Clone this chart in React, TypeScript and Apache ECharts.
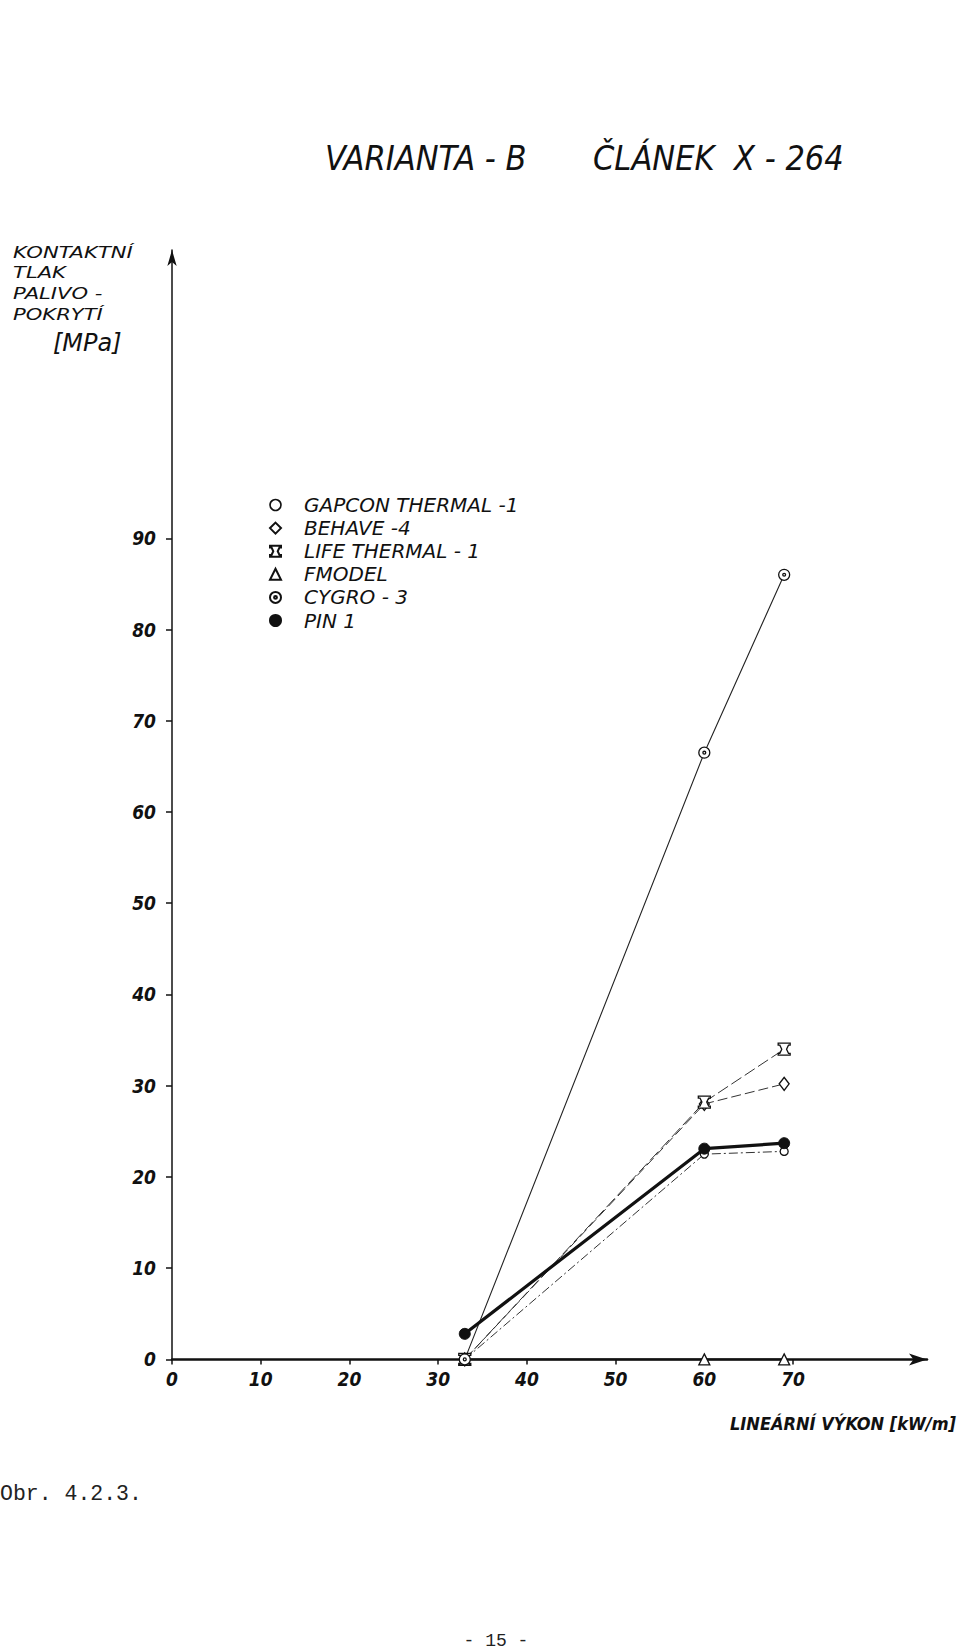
import React, { useEffect, useRef } from "react";
import * as echarts from "echarts";

const xPower = [33, 60, 69];
const gapcon = [0, 22.5, 22.8];
const behave = [0, 28, 30.2];
const life = [0, 28.2, 34];
const fmodel = [0, 0, 0];
const cygro = [0, 66.5, 86];
const pin1 = [2.8, 23.1, 23.7];

const xTicks = [0, 10, 20, 30, 40, 50, 60, 70];
const yTicks = [0, 10, 20, 30, 40, 50, 60, 70, 80, 90];

const names = ["GAPCON THERMAL -1", "BEHAVE -4", "LIFE THERMAL - 1", "FMODEL", "CYGRO - 3", "PIN 1"];

const LIFE_SYMBOL =
  "path://M0,0 H10 V1.6 H8.6 L7,5 L8.6,8.4 H10 V10 H0 V8.4 H1.4 L3,5 L1.4,1.6 H0 Z";
const CYGRO_SYMBOL =
  "path://M10,5 A5,5 0 1 1 0,5 A5,5 0 1 1 10,5 Z M6.3,5 A1.3,1.3 0 1 1 3.7,5 A1.3,1.3 0 1 1 6.3,5 Z";

const FONT = "DejaVu Sans Condensed, DejaVu Sans, sans-serif";
const WIDE = "DejaVu Sans, sans-serif";
const MONO = "Liberation Mono, DejaVu Sans Mono, monospace";
const INK = "#111";

function pts(vals: number[]) {
  return xPower.map((x, i) => [x, vals[i]]);
}

export default function App() {
  const ref = useRef<HTMLDivElement>(null);
  useEffect(() => {
    document.body.style.margin = "0";
    const chart = echarts.init(ref.current!, null, { renderer: "svg" });
    const openItem = { color: "#fff", borderColor: INK, borderWidth: 1.3 };
    const txt = (text: string, x: number, y: number, size: number, extra: any = {}, el: any = {}) => ({
      type: "text",
      x,
      y,
      ...el,
      style: {
        text,
        fontSize: size,
        fontFamily: FONT,
        fontStyle: "italic",
        fill: INK,
        verticalAlign: "middle",
        ...extra,
      },
    });
    const ylab = (text: string, y: number) => txt(text, 13, y, 16, { fontFamily: WIDE }, { scaleX: 1.32 });
    chart.setOption({
      animation: false,
      backgroundColor: "#fff",
      grid: { left: 172, right: 33, top: 250, bottom: 292.6, containLabel: false },
      xAxis: {
        type: "value",
        min: 0,
        max: 85.1,
        interval: 10,
        splitLine: { show: false },
        axisLine: {
          show: true,
          symbol: ["none", "arrow"],
          symbolSize: [9, 18],
          lineStyle: { color: INK, width: 2.5 },
        },
        axisTick: { show: true, customValues: xTicks, length: 5, lineStyle: { color: INK, width: 1.5 } },
        axisLabel: {
          customValues: xTicks,
          fontSize: 19,
          fontStyle: "italic",
          fontWeight: "bold",
          fontFamily: FONT,
          color: INK,
          margin: 10,
        },
      },
      yAxis: {
        type: "value",
        min: 0,
        max: 121.6,
        interval: 10,
        splitLine: { show: false },
        axisLine: {
          show: true,
          onZero: false,
          symbol: ["none", "arrow"],
          symbolSize: [7, 16],
          lineStyle: { color: INK, width: 1.5 },
        },
        axisTick: { show: true, customValues: yTicks, length: 6, lineStyle: { color: INK, width: 1.5 } },
        axisLabel: {
          customValues: yTicks,
          fontSize: 19,
          fontStyle: "italic",
          fontWeight: "bold",
          fontFamily: FONT,
          color: INK,
          margin: 16,
        },
      },
      legend: {
        orient: "vertical",
        left: 264,
        top: 490,
        itemWidth: 11,
        itemHeight: 11,
        itemGap: 3.1,
        textStyle: { fontSize: 20, lineHeight: 20, fontFamily: WIDE, fontStyle: "italic", color: INK, padding: [0, 0, 0, 18] },
        data: [
          { name: names[0], icon: "circle", itemStyle: { borderWidth: 1.6 } },
          { name: names[1], icon: "diamond" },
          { name: names[2], icon: LIFE_SYMBOL },
          { name: names[3], icon: "triangle" },
          { name: names[4], icon: CYGRO_SYMBOL },
          { name: names[5], icon: "circle" },
        ],
      },
      graphic: [
        txt("VARIANTA - B", 325, 158, 34),
        txt("ČLÁNEK  X - 264", 593, 158, 34),
        ylab("KONTAKTNÍ", 252),
        ylab("TLAK", 272),
        ylab("PALIVO -", 293),
        ylab("POKRYTÍ", 314),
        txt("[MPa]", 53, 343, 24, { fontFamily: WIDE }),
        txt("LINEÁRNÍ VÝKON [kW/m]", 956, 1423, 18, { fontWeight: "bold", align: "right" }),
        {
          type: "text",
          x: 0,
          y: 1494,
          style: { text: "Obr. 4.2.3.", fontSize: 21.5, fontFamily: MONO, fill: "#222", verticalAlign: "middle" },
        },
        {
          type: "text",
          x: 496,
          y: 1641,
          style: { text: "- 15 -", fontSize: 18, fontFamily: MONO, fill: "#222", align: "center", verticalAlign: "middle" },
        },
      ],
      series: [
        {
          name: names[0],
          type: "line",
          data: pts(gapcon),
          symbol: "circle",
          symbolSize: 8,
          itemStyle: openItem,
          lineStyle: { color: "#333", width: 1, type: [9, 3, 2, 3] },
          z: 3,
        },
        {
          name: names[1],
          type: "line",
          data: pts(behave),
          symbol: "diamond",
          symbolSize: [10, 13],
          itemStyle: openItem,
          lineStyle: { color: "#333", width: 1, type: [10, 4] },
          z: 3,
        },
        {
          name: names[2],
          type: "line",
          data: pts(life),
          symbol: LIFE_SYMBOL,
          symbolSize: 12,
          itemStyle: openItem,
          lineStyle: { color: "#333", width: 1, type: [12, 4] },
          z: 3,
        },
        {
          name: names[3],
          type: "line",
          data: pts(fmodel),
          symbol: "triangle",
          symbolSize: 11,
          itemStyle: openItem,
          lineStyle: { color: INK, width: 2 },
          z: 3,
        },
        {
          name: names[4],
          type: "line",
          data: pts(cygro),
          symbol: CYGRO_SYMBOL,
          symbolSize: 11,
          itemStyle: openItem,
          lineStyle: { color: "#222", width: 1.1 },
          z: 3,
        },
        {
          name: names[5],
          type: "line",
          data: pts(pin1),
          symbol: "circle",
          symbolSize: 11,
          itemStyle: { color: INK, borderColor: INK, borderWidth: 1 },
          lineStyle: { color: INK, width: 3.2 },
          z: 4,
        },
      ],
    });
    return () => chart.dispose();
  }, []);
  return (
    <div
      ref={ref}
      style={{ position: "absolute", left: 0, top: 0, width: 960, height: 1652, background: "#fff" }}
    />
  );
}
